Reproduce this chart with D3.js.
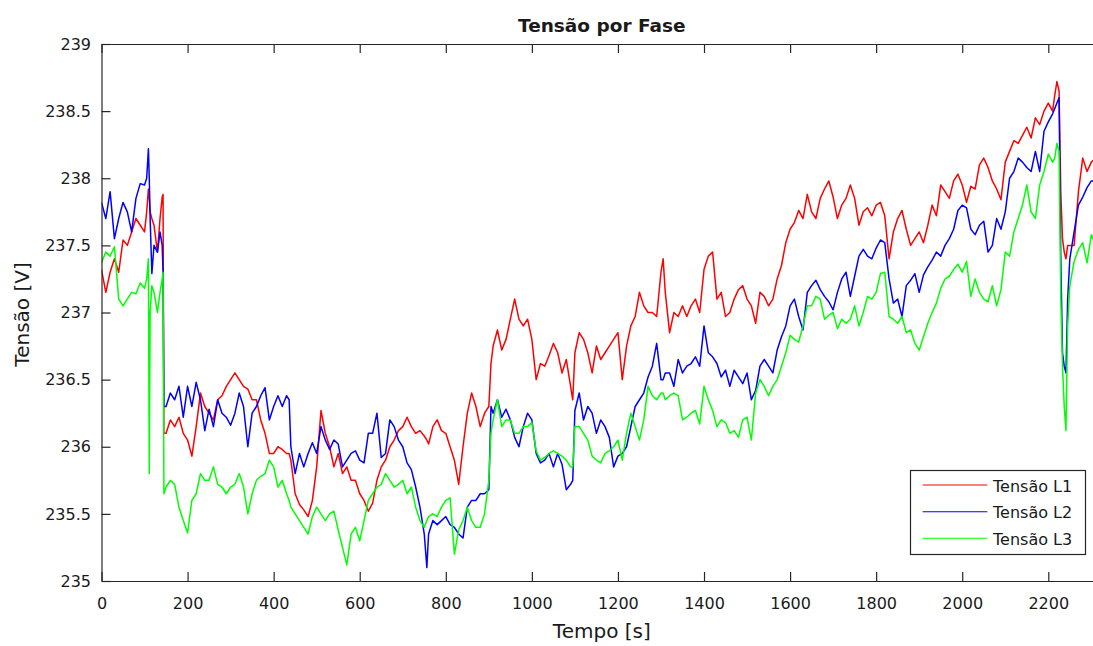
<!DOCTYPE html>
<html>
<head>
<meta charset="utf-8">
<script src="https://cdn.jsdelivr.net/npm/d3@7"></script>
<style>
  html, body { margin: 0; padding: 0; background: #ffffff; }
  svg { display: block; }
  text { font-family: "DejaVu Sans", sans-serif; fill: #1a1a1a; }
</style>
</head>
<body>
<svg id="chart" width="1093" height="646"></svg>
<script>
// ---------------- data ----------------
const titleText = "Tensão por Fase";
const xLabelText = "Tempo [s]";
const yLabelText = "Tensão [V]";
const seriesNames = ["Tensão L1", "Tensão L2", "Tensão L3"];
const seriesColors = ["#ff0000", "#0000ff", "#00ff00"];

const xTicks = [0, 200, 400, 600, 800, 1000, 1200, 1400, 1600, 1800, 2000, 2200];
const yTicks = [235, 235.5, 236, 236.5, 237, 237.5, 238, 238.5, 239];
const xDomain = [0, 2325];
const yDomain = [235, 239];

const time = [
  0,10,20,30,40,50,60,70,80,90,100,105,109,111,113,117,122,130,136,141,143,145,
  150,160,170,180,190,200,210,220,230,240,250,260,270,280,290,300,310,320,330,340,350,360,370,380,390,400,410,420,430,436,440,
  450,460,470,480,490,500,510,520,530,540,550,560,570,580,590,600,610,620,630,640,650,660,670,680,690,700,710,720,730,740,750,756,
  760,770,780,790,800,810,820,830,840,850,860,870,880,890,900,905,
  910,920,930,940,950,960,970,980,990,1000,1010,1020,1030,1040,1050,1060,1070,1080,1090,1095,
  1100,1110,1120,1130,1140,1150,1160,1170,1180,1190,1200,1210,1220,1230,1240,1250,1260,1270,1280,1290,1300,1305,
  1310,1320,1330,1340,1350,
  1360,1370,1380,1390,1400,1410,1420,1430,1440,1450,1460,1470,1480,1490,1500,1510,1520,1530,1540,1550,1560,1570,1580,1590,
  1600,1610,1620,1630,1640,1650,1660,1670,1680,1690,1700,1710,1720,1730,1740,1750,1760,1770,1780,1790,1800,
  1810,1820,1830,1840,1850,1860,1870,1880,1890,1900,1910,1920,1930,1940,1950,1960,1970,1980,1990,2000,
  2010,2020,2030,2040,2050,2060,2070,2080,2090,2100,2110,2120,2130,2140,2150,2160,2170,2180,2190,2200,2210,
  2215,2220,2225,2229,2233,2237,2241,2245,2250,
  2260,2270,2280,2290,2300,2310,2320
];

const tensaoL1 = [
  237.32,237.15,237.3,237.4,237.3,237.54,237.5,237.6,237.7,237.65,237.6,237.75,237.92,237.85,237.75,237.7,237.65,237.45,237.7,237.86,237.88,236.1,
  236.1,236.2,236.15,236.22,236.1,236.05,235.93,236.15,236.4,236.3,236.25,236.2,236.35,236.38,236.45,236.5,236.55,236.5,236.45,236.43,236.35,236.35,236.2,236.1,235.95,235.95,236.0,235.98,235.95,235.95,235.9,
  235.65,235.57,235.53,235.48,235.6,235.85,236.27,236.1,236.0,235.85,235.95,235.8,235.85,235.75,235.75,235.65,235.6,235.52,235.58,235.75,235.85,235.9,236.0,236.05,236.12,236.15,236.22,236.15,236.1,236.12,236.08,236.05,
  236.02,236.15,236.2,236.12,236.1,236.0,235.9,235.72,236.0,236.25,236.4,236.3,236.15,236.25,236.3,236.62,
  236.75,236.87,236.72,236.8,236.95,237.1,236.95,236.9,236.95,236.8,236.5,236.62,236.6,236.68,236.77,236.7,236.55,236.65,236.45,236.35,
  236.7,236.85,236.8,236.7,236.55,236.75,236.65,236.7,236.75,236.8,236.85,236.5,236.75,236.9,236.97,237.15,237.05,237.0,237.0,236.97,237.3,237.4,
  237.15,236.85,237.0,236.97,237.05,
  236.97,237.05,237.1,237.0,237.32,237.42,237.45,237.1,237.15,236.97,237.0,237.1,237.17,237.2,237.1,237.05,236.92,237.15,237.12,237.05,237.1,237.25,237.35,237.52,
  237.62,237.67,237.76,237.7,237.88,237.75,237.7,237.85,237.92,237.98,237.86,237.7,237.8,237.85,237.95,237.85,237.65,237.75,237.78,237.72,237.8,
  237.82,237.72,237.4,237.6,237.7,237.76,237.62,237.5,237.55,237.6,237.52,237.65,237.8,237.72,237.95,237.9,237.85,237.98,238.03,237.95,
  237.82,237.94,237.92,238.1,238.15,238.08,237.98,237.92,237.84,238.12,238.2,238.28,238.26,238.32,238.38,238.3,238.45,238.4,238.5,238.56,238.5,
  238.62,238.72,238.65,237.9,237.55,237.45,237.4,237.5,237.5,
  237.5,237.9,238.15,238.05,238.12,238.15,238.1
];

const tensaoL2 = [
  237.82,237.7,237.9,237.55,237.7,237.82,237.75,237.6,237.85,237.96,237.95,238.0,238.22,238.0,237.7,237.29,237.5,237.45,237.6,237.5,237.3,236.3,
  236.3,236.4,236.35,236.45,236.22,236.45,236.3,236.48,236.35,236.12,236.28,236.15,236.35,236.25,236.22,236.16,236.25,236.4,236.3,236.0,236.25,236.3,236.38,236.44,236.2,236.3,236.38,236.3,236.38,236.35,236.0,
  235.8,235.95,235.85,235.95,236.03,235.95,236.15,236.05,235.98,236.05,236.02,235.85,235.9,235.95,235.97,235.9,235.88,236.1,236.1,236.25,235.92,235.95,236.2,236.15,236.05,236.0,235.88,235.83,235.7,235.55,235.35,235.1,
  235.35,235.45,235.42,235.45,235.48,235.42,235.4,235.35,235.32,235.55,235.6,235.6,235.65,235.65,235.68,236.3,
  236.25,236.35,236.22,236.28,236.2,236.07,236.0,236.15,236.25,236.2,235.95,235.88,235.9,235.95,235.85,235.95,235.87,235.68,235.72,235.75,
  236.27,236.4,236.2,236.3,236.25,236.1,236.2,236.15,236.07,235.85,235.93,235.95,236.0,236.15,236.3,236.35,236.4,236.52,236.6,236.77,236.5,236.5,
  236.55,236.55,236.45,236.65,236.55,
  236.6,236.62,236.67,236.6,236.9,236.7,236.67,236.62,236.52,236.57,236.45,236.57,236.52,236.47,236.55,236.35,236.42,236.6,236.65,236.6,236.55,236.72,236.82,236.9,
  237.05,237.1,236.97,236.87,237.15,237.2,237.24,237.17,237.12,237.08,237.02,237.15,237.25,237.3,237.12,237.27,237.42,237.47,237.42,237.4,237.48,
  237.54,237.52,237.25,237.07,237.1,236.97,237.2,237.24,237.29,237.15,237.28,237.34,237.39,237.45,237.42,237.5,237.55,237.62,237.76,237.8,
  237.78,237.62,237.58,237.65,237.68,237.45,237.5,237.7,237.62,237.75,238.0,238.05,238.15,238.12,238.08,238.05,238.2,238.05,238.35,238.42,238.48,
  238.52,238.56,238.6,237.4,236.7,236.6,236.55,237.1,237.4,
  237.6,237.8,237.86,237.93,237.98,237.98,238.0
];

const tensaoL3 = [
  237.37,237.45,237.42,237.49,237.1,237.05,237.1,237.15,237.14,237.22,237.18,237.25,237.4,235.8,237.0,237.2,237.15,237.0,237.15,237.25,237.3,235.65,
  235.7,235.75,235.72,235.55,235.45,235.36,235.6,235.65,235.8,235.75,235.75,235.85,235.72,235.7,235.65,235.7,235.72,235.8,235.7,235.5,235.65,235.75,235.78,235.8,235.9,235.85,235.7,235.75,235.65,235.6,235.55,
  235.5,235.45,235.4,235.35,235.48,235.55,235.5,235.45,235.5,235.52,235.38,235.25,235.12,235.35,235.4,235.3,235.45,235.6,235.65,235.7,235.72,235.8,235.75,235.7,235.72,235.75,235.65,235.7,235.55,235.45,235.4,235.45,
  235.48,235.5,235.48,235.55,235.6,235.62,235.2,235.38,235.45,235.55,235.45,235.4,235.4,235.5,235.75,236.1,
  236.2,236.35,236.15,236.2,236.2,236.1,236.1,236.15,236.15,236.18,235.97,235.9,235.92,235.95,235.97,235.95,235.93,235.9,235.85,235.85,
  236.15,236.15,236.1,236.05,235.93,235.9,235.88,235.95,235.97,236.0,236.05,235.9,236.1,236.25,236.15,236.05,236.2,236.45,236.38,236.35,236.4,236.4,
  236.35,236.38,236.4,236.38,236.2,
  236.22,236.25,236.27,236.17,236.45,236.35,236.27,236.15,236.2,236.18,236.1,236.12,236.07,236.2,236.22,236.05,236.4,236.5,236.45,236.38,236.45,236.5,236.6,236.7,
  236.83,236.8,236.78,236.9,237.05,237.05,237.12,237.1,236.95,236.98,237.0,236.88,236.95,236.92,236.95,237.05,236.9,237.0,237.12,237.1,237.15,
  237.29,237.3,236.97,236.95,236.92,236.97,236.85,236.87,236.77,236.72,236.82,236.92,237.0,237.07,237.18,237.25,237.27,237.32,237.36,237.3,
  237.38,237.12,237.25,237.15,237.1,237.08,237.2,237.05,237.17,237.45,237.42,237.6,237.7,237.8,237.95,237.75,237.7,237.95,238.05,238.18,238.12,
  238.15,238.26,238.2,237.1,236.6,236.3,236.12,236.9,237.2,
  237.38,237.47,237.52,237.37,237.58,237.5,237.55
];

const seriesValues = [tensaoL1, tensaoL2, tensaoL3];

// ---------------- layout ----------------
const plot = { left: 101.5, top: 44, right: 1102.1, bottom: 581 };
const axisColor = "#262626";

const svg = d3.select("#chart");

const x = d3.scaleLinear().domain(xDomain).range([plot.left, plot.right]);
const y = d3.scaleLinear().domain(yDomain).range([plot.bottom, plot.top]);

// clip path for the data
svg.append("defs").append("clipPath").attr("id", "plotClip")
  .append("rect")
  .attr("x", plot.left).attr("y", plot.top)
  .attr("width", plot.right - plot.left).attr("height", plot.bottom - plot.top);

// data lines
const lineGen = (vals) => d3.line()
  .x((d, i) => x(time[i]))
  .y(d => y(d))(vals);

const linesG = svg.append("g").attr("clip-path", "url(#plotClip)");
seriesValues.forEach((vals, k) => {
  if (vals.length !== time.length) console.error("length mismatch", k, vals.length, time.length);
  linesG.append("path")
    .attr("d", lineGen(vals))
    .attr("fill", "none")
    .attr("stroke", seriesColors[k])
    .attr("stroke-width", 1.5)
    .attr("stroke-linejoin", "round");
});

// axes
const tickLen = 9;
const fmt = d => String(+d.toFixed(1));

const gBottom = svg.append("g").attr("transform", `translate(0,${plot.bottom})`)
  .call(d3.axisBottom(x).tickValues(xTicks).tickFormat(fmt)
    .tickSizeInner(-tickLen).tickSizeOuter(0).tickPadding(16.5));
const gTop = svg.append("g").attr("transform", `translate(0,${plot.top})`)
  .call(d3.axisTop(x).tickValues(xTicks).tickFormat("")
    .tickSizeInner(-tickLen).tickSizeOuter(0));
const gLeft = svg.append("g").attr("transform", `translate(${plot.left},0)`)
  .call(d3.axisLeft(y).tickValues(yTicks).tickFormat(fmt)
    .tickSizeInner(-tickLen).tickSizeOuter(0).tickPadding(10.5));
const gRight = svg.append("g").attr("transform", `translate(${plot.right},0)`)
  .call(d3.axisRight(y).tickValues(yTicks).tickFormat("")
    .tickSizeInner(-tickLen).tickSizeOuter(0));

[gBottom, gTop, gLeft, gRight].forEach(g => {
  g.select(".domain").attr("stroke", axisColor).attr("stroke-width", 1.2);
  g.selectAll(".tick line").attr("stroke", axisColor).attr("stroke-width", 1.2);
  g.selectAll(".tick text")
    .attr("fill", "#1a1a1a")
    .style("font-family", '"DejaVu Sans", sans-serif')
    .style("font-size", "16px");
});

// title and axis labels
const midX = (plot.left + plot.right) / 2;
svg.append("text")
  .attr("x", midX).attr("y", 31.5)
  .attr("text-anchor", "middle")
  .style("font-size", "18.5px").style("font-weight", "bold")
  .text(titleText);

svg.append("text")
  .attr("x", midX).attr("y", 638)
  .attr("text-anchor", "middle")
  .style("font-size", "20px")
  .text(xLabelText);

svg.append("text")
  .attr("transform", `translate(29,${(plot.top + plot.bottom) / 2 + 2}) rotate(-90)`)
  .attr("text-anchor", "middle")
  .style("font-size", "20px")
  .text(yLabelText);

// legend
const legend = { x: 910.5, y: 470.5, w: 175, h: 84 };
const lg = svg.append("g");
lg.append("rect")
  .attr("x", legend.x).attr("y", legend.y)
  .attr("width", legend.w).attr("height", legend.h)
  .attr("fill", "#ffffff").attr("stroke", axisColor).attr("stroke-width", 1.2);
const rowY = [485, 511.7, 538.3];
seriesNames.forEach((name, k) => {
  lg.append("line")
    .attr("x1", 922.7).attr("x2", 987.3)
    .attr("y1", rowY[k]).attr("y2", rowY[k])
    .attr("stroke", seriesColors[k]).attr("stroke-width", 1.1);
  lg.append("text")
    .attr("x", 993).attr("y", rowY[k] + 6.5)
    .style("font-size", "16px")
    .text(name);
});
</script>
</body>
</html>
